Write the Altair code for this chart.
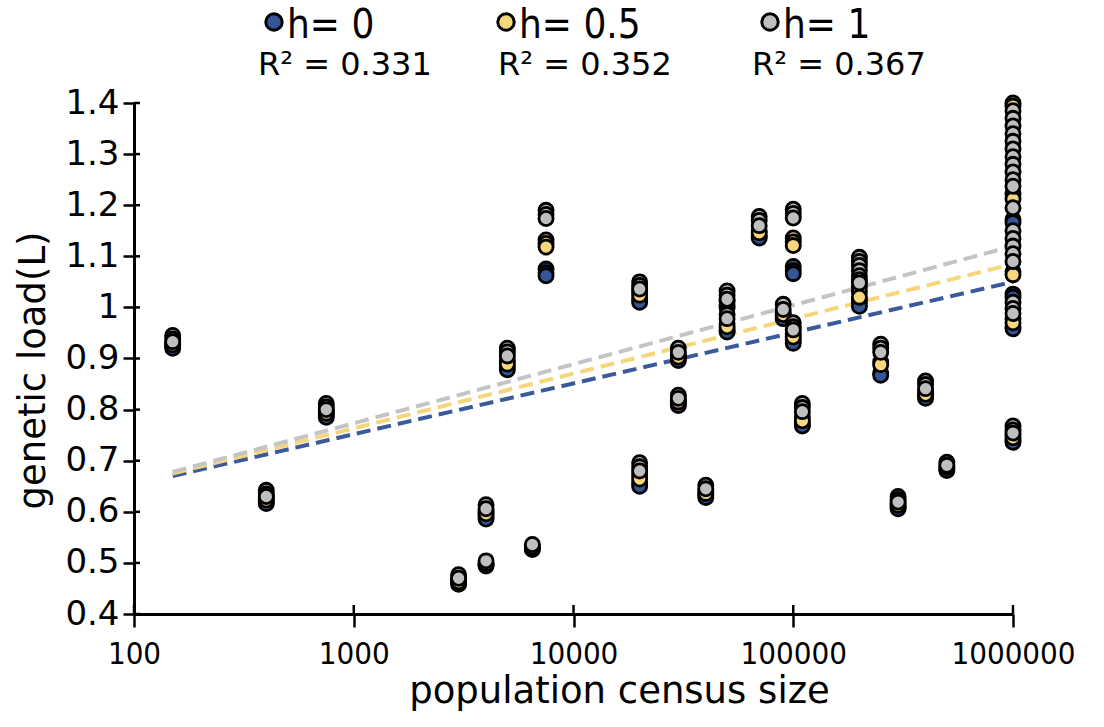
import altair as alt
import pandas as pd

# Genetic load by population census size, for three dominance coefficients (h).
# Each dict maps a census size to the loads of the replicate runs at that size.
load_h0 = {
    150: [0.925, 0.920],
    400: [0.620, 0.616],
    750: [0.790, 0.785],
    3000: [0.462, 0.458],
    4000: [0.592, 0.586, 0.497, 0.494],
    5000: [0.884, 0.878],
    6500: [0.528, 0.526],
    7500: [1.075, 1.068, 1.062],
    20000: [1.016, 1.010, 0.656, 0.650],
    30000: [0.900, 0.896, 0.812, 0.808],
    40000: [0.632, 0.628],
    50000: [1.004, 1.000, 0.956, 0.952],
    70000: [1.140, 1.136],
    90000: [0.982, 0.978],
    100000: [1.080, 1.072, 1.066, 0.936, 0.930],
    110000: [0.772, 0.768],
    200000: [1.015, 1.008, 1.002],
    250000: [0.872, 0.867],
    300000: [0.610, 0.606],
    400000: [0.826, 0.822],
    500000: [0.684, 0.681],
    1000000: [1.172, 1.166, 1.026, 1.020, 0.962, 0.958, 0.740, 0.736],
}
load_h05 = {
    150: [0.930, 0.927],
    400: [0.627, 0.623],
    750: [0.797, 0.793],
    3000: [0.466, 0.463],
    4000: [0.600, 0.596, 0.499],
    5000: [0.895, 0.889],
    6500: [0.531],
    7500: [1.132, 1.125, 1.118],
    20000: [1.030, 1.024, 0.672, 0.664],
    30000: [0.906, 0.903, 0.818, 0.815],
    40000: [0.640, 0.636],
    50000: [1.012, 0.968, 0.962],
    70000: [1.150, 1.146],
    90000: [0.990, 0.986],
    100000: [1.136, 1.128, 1.121, 0.948, 0.942],
    110000: [0.785, 0.778],
    200000: [1.040, 1.030, 1.020],
    250000: [0.893, 0.888],
    300000: [0.616, 0.613],
    400000: [0.834, 0.830],
    500000: [0.687],
    1000000: [1.400, 1.394, 1.222, 1.212, 1.070, 1.064, 0.978, 0.970, 0.750, 0.745],
}
load_h1 = {
    150: [0.945, 0.938, 0.933],
    400: [0.642, 0.635, 0.630],
    750: [0.812, 0.805, 0.800],
    3000: [0.477, 0.470],
    4000: [0.614, 0.606, 0.504],
    5000: [0.920, 0.913, 0.905],
    6500: [0.536],
    7500: [1.190, 1.182, 1.174],
    20000: [1.050, 1.043, 1.036, 0.696, 0.688, 0.680],
    30000: [0.920, 0.912, 0.828, 0.822],
    40000: [0.652, 0.645],
    50000: [1.032, 1.024, 1.016, 0.986, 0.978],
    70000: [1.178, 1.170, 1.160],
    90000: [1.006, 0.996],
    100000: [1.192, 1.184, 1.175, 0.970, 0.962, 0.956],
    110000: [0.812, 0.804, 0.796],
    200000: [1.098, 1.090, 1.082, 1.072, 1.062, 1.054, 1.048],
    250000: [0.928, 0.920, 0.912],
    300000: [0.630, 0.624, 0.619],
    400000: [0.856, 0.849, 0.841],
    500000: [0.697, 0.691],
    1000000: [1.385, 1.370, 1.355, 1.340, 1.325, 1.310, 1.295, 1.280, 1.265,
              1.250, 1.237, 1.195, 1.150, 1.135, 1.120, 1.105, 1.090, 1.010,
              0.998, 0.988, 0.768, 0.760, 0.754],
}

# Log-linear fits, evaluated at the ends of the sampled census range
fit_census = [150, 1000000]
fit_h0 = [0.670, 1.050]
fit_h05 = [0.675, 1.085]
fit_h1 = [0.678, 1.120]

series_names = ["h= 0", "h= 0.5", "h= 1"]
r_squared = [0.331, 0.352, 0.367]
fill_colors = ["#365597", "#f6d77b", "#bfbfbf"]
line_colors = ["#3a5a9b", "#f5d67a", "#c4c4c4"]

x_ticks = [100, 1000, 10000, 100000, 1000000]
y_ticks = [0.4, 0.5, 0.6, 0.7, 0.8, 0.9, 1.0, 1.1, 1.2, 1.3, 1.4]

FONT = "DejaVu Sans"
NARROW = "DejaVu Sans Condensed"
PLOT_W, PLOT_H = 879, 511

rows = []
for k, loads in enumerate([load_h0, load_h05, load_h1]):
    for n, ys in loads.items():
        for y in ys:
            rows.append({"census": n, "load": y, "series": series_names[k], "k": k})
points_df = pd.DataFrame(rows)
# blue drawn first, grey last; within a series higher values first
points_df = points_df.sort_values(["k", "load"], ascending=[True, False]).reset_index(drop=True)
points_df["draw"] = range(len(points_df))

fit_rows = []
for k, fit in enumerate([fit_h0, fit_h05, fit_h1]):
    for n, y in zip(fit_census, fit):
        fit_rows.append({"census": n, "load": y, "series": series_names[k], "k": k})
fit_df = pd.DataFrame(fit_rows)

x_scale = alt.Scale(type="log", domain=[100, 1000000], nice=False)
y_scale = alt.Scale(domain=[0.4, 1.4], nice=False, zero=False)

x_axis = alt.Axis(
    values=x_ticks, format="d", title="population census size",
    grid=False, domainWidth=3, domainColor="black", tickColor="black",
    tickWidth=2.5, tickSize=13, labelFont=NARROW, labelFontSize=31,
    labelColor="black", labelPadding=12, titleFont=FONT, titleFontSize=37,
    titleFontWeight="normal", titleColor="black", titlePadding=4, labelFlush=False,
    titleX=485, titleAnchor="start", titleAlign="center",
)
y_axis = alt.Axis(
    values=y_ticks, format="~g", title="genetic load(L)",
    grid=False, domainWidth=3, domainColor="black", tickColor="black",
    tickWidth=2.5, tickSize=11, labelFont=FONT, labelFontSize=34,
    labelColor="black", labelPadding=4, titleFont=FONT, titleFontSize=37,
    titleFontWeight="normal", titleColor="black", titlePadding=12,
    titleY=267, titleAnchor="start", titleAlign="center",
)

color_scale = alt.Scale(domain=series_names, range=fill_colors)
line_scale = alt.Scale(domain=series_names, range=line_colors)

fit_lines = alt.Chart(fit_df).mark_line(strokeWidth=4, strokeDash=[14, 7]).encode(
    x=alt.X("census:Q", scale=x_scale, axis=x_axis),
    y=alt.Y("load:Q", scale=y_scale, axis=y_axis),
    color=alt.Color("series:N", scale=line_scale, legend=None),
    detail="series:N",
)

# short inner halves of the tick marks, so the ticks cross the axis lines
x_inner = alt.Chart(pd.DataFrame({"census": x_ticks})).mark_rule(
    color="black", strokeWidth=2.5
).encode(
    x=alt.X("census:Q", scale=x_scale),
    y=alt.value(PLOT_H - 9), y2=alt.value(PLOT_H),
)
y_inner = alt.Chart(pd.DataFrame({"load": y_ticks})).mark_rule(
    color="black", strokeWidth=2.5
).encode(
    y=alt.Y("load:Q", scale=y_scale),
    x=alt.value(0), x2=alt.value(6),
)

dots = alt.Chart(points_df).mark_point(
    shape="circle", filled=True, size=200, stroke="black", strokeWidth=2.8, opacity=1
).encode(
    x=alt.X("census:Q", scale=x_scale),
    y=alt.Y("load:Q", scale=y_scale),
    fill=alt.Fill("series:N", scale=color_scale, legend=None),
    order=alt.Order("draw:Q"),
)

# Legend across the top: marker, series name, and R² of its fit
legend_layers = []
legend_x = [140, 372, 636]
r2_x = [124, 364, 618]
for k in range(3):
    legend_layers.append(
        alt.Chart(pd.DataFrame({"series": [series_names[k]]})).mark_point(
            shape="circle", filled=True, size=270, stroke="black", strokeWidth=3,
            opacity=1, fill=fill_colors[k],
        ).encode(x=alt.value(legend_x[k]), y=alt.value(-81))
    )
    legend_layers.append(
        alt.Chart(pd.DataFrame({"series": [series_names[k]]})).mark_text(
            align="left", baseline="alphabetic", font=NARROW,
            fontSize=40, color="black",
        ).encode(x=alt.value(legend_x[k] + 13), y=alt.value(-65), text="series:N")
    )
    legend_layers.append(
        alt.Chart(pd.DataFrame({"r2": [f"R² = {r_squared[k]:.3f}"]})).mark_text(
            align="left", baseline="alphabetic", font=FONT, fontSize=32, color="black",
        ).encode(x=alt.value(r2_x[k]), y=alt.value(-28), text="r2:N")
    )

chart = alt.layer(fit_lines, x_inner, y_inner, dots, *legend_layers).properties(
    width=PLOT_W, height=PLOT_H,
    autosize=alt.AutoSizeParams(type="none"),
    padding={"left": 134, "top": 103, "right": 91, "bottom": 113},
    background="white",
).configure_view(stroke=None)

chart.save("out.html", embed_options={"renderer": "svg", "actions": False})
